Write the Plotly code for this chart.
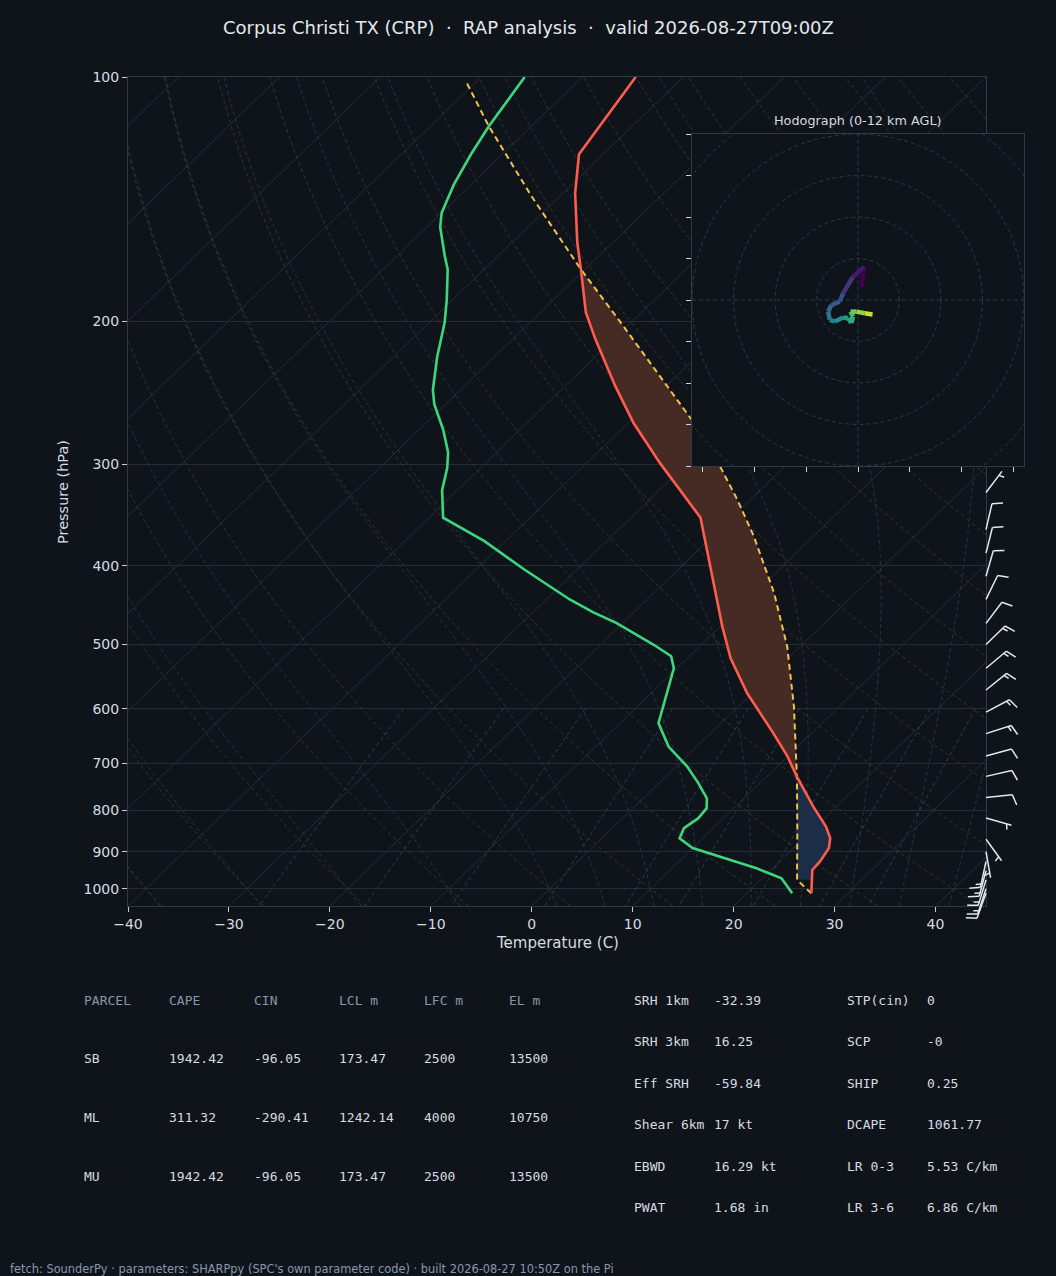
import numpy as np
import plotly.graph_objects as go
from plotly.colors import sample_colorscale

W, H = 1056, 1276
BG = "#0f141b"
FRAME = "#2f3a48"
TXT = "#d6dbe0"
HDR = "#8797ab"

# ---------------- data ----------------
temp_p = [1013, 948, 926, 891, 866, 838, 792, 727.5, 687, 643, 574, 520, 475, 408, 375,
          349, 322, 299, 267, 240, 210, 195, 172.6, 160, 139, 124.5, 100]
temp_c = [26.4, 24.1, 24.0, 23.5, 22.6, 21.0, 17.7, 13.0, 10.0, 6.2, -0.5, -5.7, -9.8, -16.4, -20.0,
          -23.1, -28.1, -32.7, -39.4, -45.1, -51.9, -55.5, -60.4, -63.5, -68.8, -72.4, -74.7]

dwpt_p = [1013, 970.6, 943.5, 917, 891, 866.5, 842, 818.5, 795.6, 773.5, 741, 707, 668, 625,
          535, 517, 500.5, 470.6, 456.6, 440.5, 404, 373, 349, 323, 303, 290, 272, 253, 243,
          221, 201, 188, 172.6, 166, 153, 147, 135.6, 124.5, 115, 100]
dwpt_c = [24.5, 21.9, 18.4, 14.1, 10.0, 7.7, 7.1, 7.5, 7.3, 6.3, 3.9, 1.1, -2.8, -6.2,
          -10.3, -11.8, -14.7, -20.6, -24.0, -27.6, -35.3, -42.1, -48.6, -51.5, -53.3, -54.8, -57.6, -61.1, -62.7,
          -65.7, -68.4, -70.6, -73.6, -75.3, -78.7, -80.0, -81.7, -83.1, -84.2, -85.7]

parcel_p = [1013, 975, 846, 727.5, 596, 503, 432, 368, 331.6, 303, 264, 200.7, 172.6, 140, 115, 101]
parcel_c = [26.4, 23.6, 18.5, 13.0, 5.5, -1.3, -8.1, -15.9, -21.3, -26.2, -34.1, -51.0, -60.4, -72.9, -84.2, -91.2]

cin_layer = [975, 727.5]
cape_layer = [727.5, 172.6]

barb_p = [325, 361, 386, 412, 440, 471, 500, 535, 569, 606, 644, 686, 727, 772, 818, 869,
          900, 925, 950, 975, 1000, 1013]
barb_dir = [37, 13, 14, 16, 26, 37, 46, 50, 51, 62, 72, 75, 77, 84, 106, 144,
            170, 192, 195, 197, 198, 200]
barb_kt = [5, 10, 10, 10, 10, 10, 15, 15, 15, 15, 15, 10, 10, 10, 5, 5,
           5, 15, 15, 15, 15, 10]

hodo_u = [0.8, 1.45, -1.2, -3.6, -4.4, -6.4, -7.2, -6.8, -5.6, -3.6, -2.4, -1.6, -1.2, -1.8, -0.4, 1.6, 3.5]
hodo_v = [3.05, 8.0, 5.6, 1.6, -0.4, -1.2, -2.8, -4.8, -5.2, -4.2, -4.4, -5.5, -4.0, -2.8, -2.8, -3.2, -3.5]
hodo_z = [0.0, 0.8, 1.8, 2.8, 3.4, 4.0, 4.6, 5.2, 5.8, 6.4, 7.0, 7.6, 8.4, 9.2, 10.0, 11.0, 12.0]

x_ticks = [-40, -30, -20, -10, 0, 10, 20, 30, 40]
p_ticks = [100, 200, 300, 400, 500, 600, 700, 800, 900, 1000]
hodo_xticks = [-37.5, -25, -12.5, 0, 12.5, 25, 37.5]
hodo_yticks = [-40, -30, -20, -10, 0, 10, 20, 30, 40]
hodo_rings = [10, 20, 30, 40, 50]

title = "Corpus Christi TX (CRP)  \u00b7  RAP analysis  \u00b7  valid 2026-08-27T09:00Z"
parcel_header = ["PARCEL", "CAPE", "CIN", "LCL m", "LFC m", "EL m"]
parcel_rows = [["SB", "1942.42", "-96.05", "173.47", "2500", "13500"],
               ["ML", "311.32", "-290.41", "1242.14", "4000", "10750"],
               ["MU", "1942.42", "-96.05", "173.47", "2500", "13500"]]
params_a = [("SRH 1km", "-32.39"), ("SRH 3km", "16.25"), ("Eff SRH", "-59.84"),
            ("Shear 6km", "17 kt"), ("EBWD", "16.29 kt"), ("PWAT", "1.68 in")]
params_b = [("STP(cin)", "0"), ("SCP", "-0"), ("SHIP", "0.25"),
            ("DCAPE", "1061.77"), ("LR 0-3", "5.53 C/km"), ("LR 3-6", "6.86 C/km")]
footer = ("fetch: SounderPy \u00b7 parameters: SHARPpy (SPC's own parameter code) \u00b7 "
          "built 2026-08-27 10:50Z on the Pi")

# ---------------- skew-T geometry ----------------
P_BOT, P_TOP = 1050.0, 100.0
T_MIN, T_MAX = -40.0, 45.0


def yfrac(p):
    return np.log(P_BOT / np.asarray(p, float)) / np.log(P_BOT / P_TOP)


def skx(t, p):
    return np.asarray(t, float) + (T_MAX - T_MIN) * yfrac(p)


def fx(px):
    return px / W


def fy(py):
    return 1 - py / H


MAIN_X = [fx(128), fx(986)]
MAIN_Y = [fy(906), fy(77)]
MAIN_HPX = 906 - 77

fig = go.Figure()


def add_lines(xs_list, ys_list, color, dash=None, width=1.0):
    xs, ys = [], []
    for xx, yy in zip(xs_list, ys_list):
        xs += list(xx) + [None]
        ys += list(yy) + [None]
    fig.add_trace(go.Scatter(x=xs, y=ys, mode="lines", hoverinfo="skip",
                             line=dict(color=color, width=width, dash=dash)))


# isotherms
iso_x, iso_y = [], []
for t0 in range(-130, 50, 10):
    pp = np.array([P_BOT, P_TOP])
    iso_x.append(skx([t0, t0], pp))
    iso_y.append(pp)
add_lines(iso_x, iso_y, "#252e38", None, 1)

# dry adiabats
pgrid = np.linspace(P_BOT, P_TOP, 80)
dry_x, dry_y = [], []
for t0 in np.arange(T_MIN, T_MAX + 201, 10):
    tt = (t0 + 273.15) * (pgrid / 1000.0) ** 0.28571 - 273.15
    dry_x.append(skx(tt, pgrid))
    dry_y.append(pgrid)
add_lines(dry_x, dry_y, "#3b3226", "4px,3px", 1)


# moist adiabats
def dTdp(p, T):
    Rd, Cp, Lv, eps = 287.04, 1005.7, 2.501e6, 0.622
    es = 6.112 * np.exp(17.67 * (T - 273.15) / (T - 29.65))
    rs = eps * es / (p - es)
    return (Rd * T + Lv * rs) / (Cp + Lv * Lv * rs * eps / (Rd * T * T)) / p


def integrate(T0, plist):
    out = [T0]
    T = T0
    for a, b in zip(plist[:-1], plist[1:]):
        h = b - a
        k1 = dTdp(a, T)
        k2 = dTdp(a + h / 2, T + h * k1 / 2)
        k3 = dTdp(a + h / 2, T + h * k2 / 2)
        k4 = dTdp(b, T + h * k3)
        T = T + h * (k1 + 2 * k2 + 2 * k3 + k4) / 6
        out.append(T)
    return np.array(out)


p_up = np.linspace(1000, P_TOP, 91)
p_dn = np.linspace(1000, P_BOT, 6)
moist_x, moist_y = [], []
for t0 in np.concatenate((np.arange(T_MIN, 0, 10), np.arange(0, T_MAX + 1, 5))):
    tu = integrate(t0 + 273.15, p_up)
    td = integrate(t0 + 273.15, p_dn)
    pp = np.concatenate((p_dn[::-1], p_up[1:]))
    tt = np.concatenate((td[::-1], tu[1:])) - 273.15
    moist_x.append(skx(tt, pp))
    moist_y.append(pp)
add_lines(moist_x, moist_y, "#21363f", "4px,3px", 1)

# mixing ratio lines
pm = np.linspace(600, P_BOT, 30)
mix_x, mix_y = [], []
for w in [0.0004, 0.001, 0.002, 0.004, 0.007, 0.01, 0.016, 0.024, 0.032]:
    e = pm * w / (0.622 + w)
    a = np.log(e / 6.112)
    td = 243.5 * a / (17.67 - a)
    mix_x.append(skx(td, pm))
    mix_y.append(pm)
add_lines(mix_x, mix_y, "#283c50", "4px,3px", 1)


# CAPE / CIN shading
def layer_poly(p_hi, p_lo):
    grid = sorted({p for p in temp_p + parcel_p if p_lo <= p <= p_hi} | {p_hi, p_lo}, reverse=True)
    grid = np.array(grid, float)
    lp = np.log(grid)
    tt = np.interp(lp, np.log(temp_p[::-1]), temp_c[::-1])
    pt = np.interp(lp, np.log(parcel_p[::-1]), parcel_c[::-1])
    xs = np.concatenate((skx(pt, grid), skx(tt, grid)[::-1]))
    ys = np.concatenate((grid, grid[::-1]))
    return xs, ys


for (ph, pl), col in [(cin_layer, "#1b2d47"), (cape_layer, "#462a24")]:
    xs, ys = layer_poly(ph, pl)
    fig.add_trace(go.Scatter(x=xs, y=ys, mode="lines", fill="toself", fillcolor=col,
                             line=dict(width=0), hoverinfo="skip"))

# profiles
fig.add_trace(go.Scatter(x=skx(parcel_c, parcel_p), y=parcel_p, mode="lines",
                         line=dict(color="#f2c14e", width=2, dash="6px,4px"), name="parcel"))
fig.add_trace(go.Scatter(x=skx(dwpt_c, dwpt_p), y=dwpt_p, mode="lines",
                         line=dict(color="#3dd67c", width=2.6), name="dewpoint"))
fig.add_trace(go.Scatter(x=skx(temp_c, temp_p), y=temp_p, mode="lines",
                         line=dict(color="#ff5c4d", width=2.6), name="temperature"))

# ---------------- wind barbs (pixel-unit overlay axes) ----------------
L = 26.5
fh, fw, sp = 0.4 * L, 0.25 * L, 0.125 * L
bx, by = [], []
for p, d, s in zip(barb_p, barb_dir, barb_kt):
    b = np.array([0.0, MAIN_HPX * float(yfrac(p))])
    r = np.radians(d)
    sv = np.array([np.sin(r), np.cos(r)])
    u, v = -s * np.sin(r), -s * np.cos(r)
    nv = np.array([-v, u]) / s
    tip = b + L * sv
    bx += [b[0], tip[0], None]
    by += [b[1], tip[1], None]
    nfull = int(s // 10)
    half = (s % 10) >= 5
    off = L
    for i in range(nfull):
        a0 = b + off * sv
        e0 = b + (off + fw / 2) * sv + fh * nv
        bx += [a0[0], e0[0], None]
        by += [a0[1], e0[1], None]
        off -= sp
    if half:
        if off == L:
            off -= 1.5 * sp
        a0 = b + off * sv
        e0 = b + (off + fw / 4) * sv + fh / 2 * nv
        bx += [a0[0], e0[0], None]
        by += [a0[1], e0[1], None]
fig.add_trace(go.Scatter(x=bx, y=by, mode="lines", xaxis="x2", yaxis="y2", hoverinfo="skip",
                         line=dict(color="#e4e8ec", width=1.5)))

# ---------------- hodograph inset ----------------
R = 40
fig.add_trace(go.Scatter(x=[-R, R, R, -R, -R], y=[-R, -R, R, R, -R], mode="lines", fill="toself",
                         fillcolor=BG, line=dict(width=0), xaxis="x3", yaxis="y3", hoverinfo="skip"))
th = np.linspace(0, 2 * np.pi, 181)
xs, ys = [], []
for rr in hodo_rings:
    xs += list(rr * np.cos(th)) + [None]
    ys += list(rr * np.sin(th)) + [None]
xs += [-R, R, None, 0, 0]
ys += [0, 0, None, -R, R]
fig.add_trace(go.Scatter(x=xs, y=ys, mode="lines", xaxis="x3", yaxis="y3", hoverinfo="skip",
                         line=dict(color="#2c3846", width=1, dash="4px,3px")))
cols = sample_colorscale("Viridis", [z / 12.0 for z in hodo_z])
for i in range(len(hodo_u) - 1):
    fig.add_trace(go.Scatter(x=hodo_u[i:i + 2], y=hodo_v[i:i + 2], mode="lines",
                             xaxis="x3", yaxis="y3", hoverinfo="skip",
                             line=dict(color=cols[i], width=4.5)))

# ---------------- layout ----------------
axfont = dict(family="DejaVu Sans", size=14, color=TXT)
fig.update_layout(
    width=W, height=H, margin=dict(l=0, r=0, t=0, b=0, autoexpand=False),
    paper_bgcolor=BG, plot_bgcolor="rgba(0,0,0,0)", showlegend=False,
    xaxis=dict(domain=MAIN_X, range=[T_MIN, T_MAX], tickvals=x_ticks,
               ticktext=[str(t).replace("-", "\u2212") for t in x_ticks],
               ticks="outside", ticklen=5, tickcolor="#c9ced4", tickfont=axfont, automargin=False,
               showgrid=False, zeroline=False, showline=True, mirror=True, linecolor=FRAME),
    yaxis=dict(domain=MAIN_Y, type="log", range=[np.log10(P_BOT), np.log10(P_TOP)],
               tickvals=p_ticks, ticktext=[str(p) for p in p_ticks], automargin=False,
               ticks="outside", ticklen=5, tickcolor="#c9ced4", tickfont=axfont,
               showgrid=True, gridcolor="#242c36", gridwidth=1, zeroline=False,
               showline=True, mirror=True, linecolor=FRAME),
    xaxis2=dict(domain=[fx(960), 1.0], range=[960 - 986, W - 986], visible=False,
                anchor="y2", automargin=False),
    yaxis2=dict(domain=[fy(930), fy(77)], range=[-(930 - 906), MAIN_HPX], visible=False,
                anchor="x2", automargin=False),
    xaxis3=dict(domain=[fx(692), fx(1024)], range=[-R, R], anchor="y3", tickvals=hodo_xticks,
                showticklabels=False, ticks="outside", ticklen=5, tickcolor="#d0d4d9", automargin=False,
                showgrid=False, zeroline=False, showline=True, mirror=True, linecolor=FRAME),
    yaxis3=dict(domain=[fy(466), fy(134)], range=[-R, R], anchor="x3", tickvals=hodo_yticks,
                showticklabels=False, ticks="outside", ticklen=5, tickcolor="#d0d4d9", automargin=False,
                showgrid=False, zeroline=False, showline=True, mirror=True, linecolor=FRAME),
)

ann = []


def text(px, py, s, size, color=TXT, family="DejaVu Sans", xanchor="left", angle=0):
    if xanchor == "left":
        px -= 2
    ann.append(dict(x=fx(px), y=fy(py), xref="paper", yref="paper", text=s, showarrow=False,
                    xanchor=xanchor, yanchor="middle", textangle=angle,
                    font=dict(family=family, size=size, color=color)))


text(528, 27, title, 18, "#e4e8ec", xanchor="center")
text(557, 943, "Temperature (C)", 15, xanchor="center")
text(63, 492, "Pressure (hPa)", 14.5, xanchor="center", angle=-90)
text(858, 120, "Hodograph (0-12 km AGL)", 12.8, xanchor="center")

MONO = "DejaVu Sans Mono"
col_x = [84, 169, 254, 339, 424, 509]
for cx, h in zip(col_x, parcel_header):
    text(cx, 1000, h, 13, HDR, MONO)
for ry, row in zip([1058, 1117, 1176], parcel_rows):
    for cx, val in zip(col_x, row):
        text(cx, ry, val, 13, TXT, MONO)
row_y = [1000, 1041, 1083, 1124, 1166, 1207]
for ry, (k, v) in zip(row_y, params_a):
    text(634, ry, k, 13, TXT, MONO)
    text(714, ry, v, 13, TXT, MONO)
for ry, (k, v) in zip(row_y, params_b):
    text(847, ry, k, 13, TXT, MONO)
    text(927, ry, v, 13, TXT, MONO)
text(10, 1269, footer, 11.4, HDR)

fig.update_layout(annotations=ann)
fig.write_html(
    "out.html",
    config={"displayModeBar": False},
    post_script=("document.body.style.margin='0';document.body.style.padding='0';"
                 "document.body.style.overflow='hidden';"
                 "document.body.style.background='" + BG + "';"),
)
